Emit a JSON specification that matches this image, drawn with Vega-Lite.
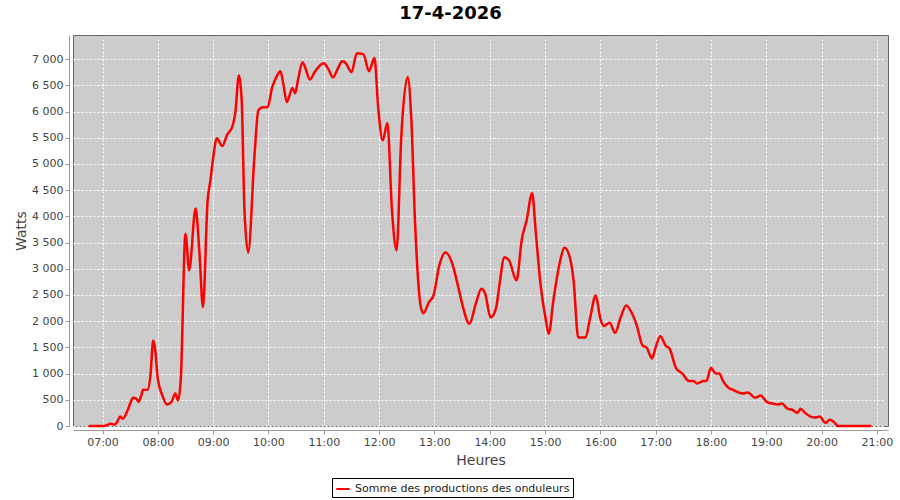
{
  "$schema": "https://vega.github.io/schema/vega-lite/v6.json",
  "autosize": {"type": "none"},
  "padding": {"left": 73, "top": 35, "right": 12, "bottom": 74},
  "width": 815,
  "height": 391,
  "background": "white",
  "title": {"text": "17-4-2026", "font": "DejaVu Sans", "fontSize": 18, "fontWeight": "bold", "color": "#000000", "anchor": "middle", "dx": -30, "offset": 12},
  "config": {
    "view": {"fill": "#cccccc", "stroke": "#666666", "strokeWidth": 1},
    "axis": {"labelFont": "DejaVu Sans", "labelFontSize": 11, "labelColor": "#444444", "titleFont": "DejaVu Sans", "titleFontSize": 14, "titleFontWeight": "normal", "titleColor": "#444444", "gridColor": "#ffffff", "gridDash": [2, 2], "gridOpacity": 1, "gridWidth": 1, "domainColor": "#999999", "tickColor": "#999999", "tickSize": 4, "offset": 4, "labelPadding": 2}
  },
  "data": {
    "values": [
      {"t": "2026-04-17T06:45", "w": 0}, {"t": "2026-04-17T06:49", "w": 0}, {"t": "2026-04-17T06:53", "w": 0}, {"t": "2026-04-17T06:57", "w": 0},
      {"t": "2026-04-17T07:02", "w": 0}, {"t": "2026-04-17T07:06", "w": 25}, {"t": "2026-04-17T07:09", "w": 45}, {"t": "2026-04-17T07:13", "w": 25},
      {"t": "2026-04-17T07:16", "w": 80}, {"t": "2026-04-17T07:19", "w": 180}, {"t": "2026-04-17T07:22", "w": 140}, {"t": "2026-04-17T07:27", "w": 290},
      {"t": "2026-04-17T07:30", "w": 425}, {"t": "2026-04-17T07:33", "w": 540}, {"t": "2026-04-17T07:37", "w": 520}, {"t": "2026-04-17T07:39", "w": 460},
      {"t": "2026-04-17T07:42", "w": 580}, {"t": "2026-04-17T07:44", "w": 690}, {"t": "2026-04-17T07:49", "w": 690}, {"t": "2026-04-17T07:52", "w": 960},
      {"t": "2026-04-17T07:55", "w": 1630}, {"t": "2026-04-17T07:57", "w": 1480}, {"t": "2026-04-17T08:00", "w": 900}, {"t": "2026-04-17T08:05", "w": 580},
      {"t": "2026-04-17T08:10", "w": 410}, {"t": "2026-04-17T08:15", "w": 465}, {"t": "2026-04-17T08:19", "w": 620}, {"t": "2026-04-17T08:22", "w": 485},
      {"t": "2026-04-17T08:25", "w": 920}, {"t": "2026-04-17T08:30", "w": 3670}, {"t": "2026-04-17T08:34", "w": 2970}, {"t": "2026-04-17T08:41", "w": 4150},
      {"t": "2026-04-17T08:45", "w": 3350}, {"t": "2026-04-17T08:49", "w": 2270}, {"t": "2026-04-17T08:54", "w": 4300}, {"t": "2026-04-17T08:57", "w": 4680},
      {"t": "2026-04-17T09:00", "w": 5110}, {"t": "2026-04-17T09:04", "w": 5490}, {"t": "2026-04-17T09:10", "w": 5340}, {"t": "2026-04-17T09:15", "w": 5550},
      {"t": "2026-04-17T09:21", "w": 5720}, {"t": "2026-04-17T09:24", "w": 5970}, {"t": "2026-04-17T09:28", "w": 6690}, {"t": "2026-04-17T09:31", "w": 6210},
      {"t": "2026-04-17T09:34", "w": 4110}, {"t": "2026-04-17T09:38", "w": 3310}, {"t": "2026-04-17T09:45", "w": 5200}, {"t": "2026-04-17T09:49", "w": 6020},
      {"t": "2026-04-17T09:54", "w": 6080}, {"t": "2026-04-17T09:59", "w": 6080}, {"t": "2026-04-17T10:04", "w": 6460}, {"t": "2026-04-17T10:09", "w": 6670},
      {"t": "2026-04-17T10:13", "w": 6770}, {"t": "2026-04-17T10:16", "w": 6540}, {"t": "2026-04-17T10:20", "w": 6180}, {"t": "2026-04-17T10:26", "w": 6450},
      {"t": "2026-04-17T10:29", "w": 6350}, {"t": "2026-04-17T10:32", "w": 6600}, {"t": "2026-04-17T10:37", "w": 6940}, {"t": "2026-04-17T10:39", "w": 6880},
      {"t": "2026-04-17T10:45", "w": 6610}, {"t": "2026-04-17T10:50", "w": 6750}, {"t": "2026-04-17T11:00", "w": 6920}, {"t": "2026-04-17T11:05", "w": 6810},
      {"t": "2026-04-17T11:10", "w": 6650}, {"t": "2026-04-17T11:15", "w": 6810}, {"t": "2026-04-17T11:20", "w": 6960}, {"t": "2026-04-17T11:24", "w": 6920},
      {"t": "2026-04-17T11:30", "w": 6750}, {"t": "2026-04-17T11:36", "w": 7110}, {"t": "2026-04-17T11:43", "w": 7090}, {"t": "2026-04-17T11:49", "w": 6770},
      {"t": "2026-04-17T11:55", "w": 7020}, {"t": "2026-04-17T11:59", "w": 6080}, {"t": "2026-04-17T12:04", "w": 5450}, {"t": "2026-04-17T12:09", "w": 5780},
      {"t": "2026-04-17T12:14", "w": 4110}, {"t": "2026-04-17T12:19", "w": 3350}, {"t": "2026-04-17T12:24", "w": 5490}, {"t": "2026-04-17T12:31", "w": 6660},
      {"t": "2026-04-17T12:35", "w": 5840}, {"t": "2026-04-17T12:39", "w": 3890}, {"t": "2026-04-17T12:45", "w": 2300}, {"t": "2026-04-17T12:48", "w": 2150},
      {"t": "2026-04-17T12:54", "w": 2360}, {"t": "2026-04-17T12:59", "w": 2490}, {"t": "2026-04-17T13:05", "w": 3040}, {"t": "2026-04-17T13:12", "w": 3310},
      {"t": "2026-04-17T13:19", "w": 3120}, {"t": "2026-04-17T13:25", "w": 2720}, {"t": "2026-04-17T13:30", "w": 2340}, {"t": "2026-04-17T13:38", "w": 1950},
      {"t": "2026-04-17T13:45", "w": 2340}, {"t": "2026-04-17T13:51", "w": 2620}, {"t": "2026-04-17T13:55", "w": 2530}, {"t": "2026-04-17T14:01", "w": 2070},
      {"t": "2026-04-17T14:07", "w": 2260}, {"t": "2026-04-17T14:10", "w": 2620}, {"t": "2026-04-17T14:16", "w": 3220}, {"t": "2026-04-17T14:21", "w": 3160},
      {"t": "2026-04-17T14:29", "w": 2780}, {"t": "2026-04-17T14:35", "w": 3580}, {"t": "2026-04-17T14:40", "w": 3920}, {"t": "2026-04-17T14:46", "w": 4440},
      {"t": "2026-04-17T14:50", "w": 3690}, {"t": "2026-04-17T14:55", "w": 2720}, {"t": "2026-04-17T15:01", "w": 2010}, {"t": "2026-04-17T15:04", "w": 1760},
      {"t": "2026-04-17T15:09", "w": 2390}, {"t": "2026-04-17T15:16", "w": 3120}, {"t": "2026-04-17T15:21", "w": 3400}, {"t": "2026-04-17T15:27", "w": 3210},
      {"t": "2026-04-17T15:31", "w": 2770}, {"t": "2026-04-17T15:36", "w": 1690}, {"t": "2026-04-17T15:44", "w": 1690}, {"t": "2026-04-17T15:49", "w": 2070},
      {"t": "2026-04-17T15:55", "w": 2490}, {"t": "2026-04-17T16:00", "w": 2050}, {"t": "2026-04-17T16:04", "w": 1910}, {"t": "2026-04-17T16:10", "w": 1970},
      {"t": "2026-04-17T16:16", "w": 1780}, {"t": "2026-04-17T16:22", "w": 2070}, {"t": "2026-04-17T16:28", "w": 2300}, {"t": "2026-04-17T16:34", "w": 2160},
      {"t": "2026-04-17T16:39", "w": 1950}, {"t": "2026-04-17T16:46", "w": 1530}, {"t": "2026-04-17T16:50", "w": 1500}, {"t": "2026-04-17T16:56", "w": 1290},
      {"t": "2026-04-17T17:00", "w": 1500}, {"t": "2026-04-17T17:05", "w": 1710}, {"t": "2026-04-17T17:11", "w": 1530}, {"t": "2026-04-17T17:15", "w": 1480},
      {"t": "2026-04-17T17:22", "w": 1110}, {"t": "2026-04-17T17:29", "w": 1000}, {"t": "2026-04-17T17:36", "w": 860}, {"t": "2026-04-17T17:41", "w": 860},
      {"t": "2026-04-17T17:45", "w": 810}, {"t": "2026-04-17T17:52", "w": 860}, {"t": "2026-04-17T17:55", "w": 860}, {"t": "2026-04-17T18:00", "w": 1110},
      {"t": "2026-04-17T18:05", "w": 1000}, {"t": "2026-04-17T18:09", "w": 1000}, {"t": "2026-04-17T18:13", "w": 860}, {"t": "2026-04-17T18:19", "w": 730},
      {"t": "2026-04-17T18:24", "w": 690}, {"t": "2026-04-17T18:30", "w": 640}, {"t": "2026-04-17T18:35", "w": 620}, {"t": "2026-04-17T18:40", "w": 640},
      {"t": "2026-04-17T18:48", "w": 540}, {"t": "2026-04-17T18:54", "w": 580}, {"t": "2026-04-17T19:01", "w": 450}, {"t": "2026-04-17T19:07", "w": 430},
      {"t": "2026-04-17T19:12", "w": 410}, {"t": "2026-04-17T19:17", "w": 430}, {"t": "2026-04-17T19:23", "w": 330}, {"t": "2026-04-17T19:28", "w": 310},
      {"t": "2026-04-17T19:34", "w": 250}, {"t": "2026-04-17T19:37", "w": 330}, {"t": "2026-04-17T19:42", "w": 250}, {"t": "2026-04-17T19:48", "w": 180},
      {"t": "2026-04-17T19:53", "w": 160}, {"t": "2026-04-17T19:58", "w": 180}, {"t": "2026-04-17T20:04", "w": 60}, {"t": "2026-04-17T20:09", "w": 120},
      {"t": "2026-04-17T20:13", "w": 80}, {"t": "2026-04-17T20:18", "w": 0}, {"t": "2026-04-17T20:23", "w": 0}, {"t": "2026-04-17T20:28", "w": 0},
      {"t": "2026-04-17T20:33", "w": 0}, {"t": "2026-04-17T20:38", "w": 0}, {"t": "2026-04-17T20:43", "w": 0}, {"t": "2026-04-17T20:49", "w": 0},
      {"t": "2026-04-17T20:54", "w": 0}
    ]
  },
  "mark": {"type": "line", "interpolate": "monotone", "strokeWidth": 2.5},
  "encoding": {
    "x": {
      "field": "t", "type": "temporal", "title": "Heures",
      "scale": {"domain": ["2026-04-17T06:28", "2026-04-17T21:12"], "nice": false},
      "axis": {"format": "%H:%M", "tickCount": 15, "labelAngle": 0, "titlePadding": 6}
    },
    "y": {
      "field": "w", "type": "quantitative", "title": "Watts",
      "scale": {"domain": [0, 7460], "nice": false},
      "axis": {"tickCount": 15, "labelExpr": "replace(format(datum.value, ',d'), ',', ' ')", "titlePadding": 3}
    },
    "color": {
      "datum": "Somme des productions des onduleurs",
      "type": "nominal",
      "scale": {"range": ["#ff0000"]},
      "legend": {"title": null, "orient": "none", "legendX": 259, "legendY": 443, "strokeColor": "#000000", "fillColor": "#ffffff", "padding": 3, "cornerRadius": 0, "symbolType": "stroke", "symbolStrokeWidth": 2, "symbolSize": 180, "labelFont": "DejaVu Sans", "labelFontSize": 11, "labelColor": "#222222", "labelLimit": 400}
    }
  }
}
